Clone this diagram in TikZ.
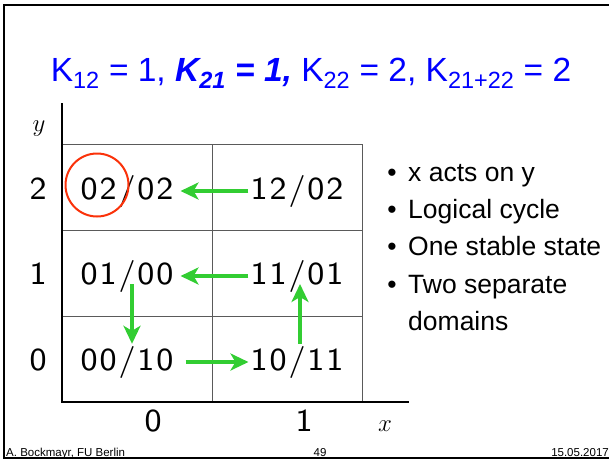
\documentclass[tikz,border=0pt]{standalone}
\usepackage{fontspec}
\newfontfamily\slidefont{Liberation Sans}
\newfontfamily\statefont{lmsans8-regular}[Extension=.otf,LetterSpace=6]
\usetikzlibrary{arrows.meta,positioning}
\definecolor{titleblue}{RGB}{0,0,255}
\definecolor{flowgreen}{RGB}{50,205,50}
\definecolor{ringred}{RGB}{250,50,10}
\definecolor{gridgray}{RGB}{90,90,90}

\begin{document}
\begin{tikzpicture}[
  x=1pt,
  y=-1pt,
  state/.style={
    font=\statefont\fontsize{32}{36}\selectfont,
    anchor=base,
    inner sep=2pt
  },
  tick/.style={
    font=\statefont\fontsize{32}{36}\selectfont,
    anchor=base,
    inner sep=0pt
  },
  bullet/.style={
    font=\slidefont\fontsize{26.5}{30}\selectfont,
    anchor=base west,
    inner sep=0pt
  },
  footer/.style={
    font=\slidefont\fontsize{11.5}{13}\selectfont,
    inner sep=0pt
  },
  flow/.style={
    draw=flowgreen,
    line width=4pt,
    -{Stealth[length=18pt,width=17pt,inset=5pt]}
  },
  gridline/.style={draw=gridgray, line width=0.9pt},
  axis/.style={draw=black, line width=1.1pt}
]
\useasboundingbox (0,0) rectangle (609,461);

% Slide frame
\draw[line width=2pt] (609,5) -- (4,5) -- (4,458) -- (609,458);

% Title
\node[font=\slidefont\fontsize{33.5}{40}\selectfont, text=titleblue,
  anchor=base] (title) at (311,81)
  {K\textsubscript{12} = 1, \textbf{\textit{K\textsubscript{21} = 1,}}
   K\textsubscript{22} = 2, K\textsubscript{21+22} = 2};

% State grid and axes
\draw[gridline] (62,144) rectangle (362,402);
\draw[gridline] (212,144) -- (212,402);
\draw[gridline] (62,230) -- (362,230);
\draw[gridline] (62,316) -- (362,316);
\draw[axis] (62,103) -- (62,402) -- (409,402);

\node[tick] (ylab) at (39,131) {$y$};
\node[tick] (y2) at (38,199) {2};
\node[tick] (y1) at (38,284) {1};
\node[tick] (y0) at (38,370) {0};
\node[tick] (x0) at (153,431) {0};
\node[tick] (x1) at (304,431) {1};
\node[tick] (xlab) at (385,431) {$x$};

% States
\node[state] (s02) at (127,199) {02/02};
\node[state] (s12) at (297,199) {12/02};
\node[state] (s01) at (127,284) {01/00};
\node[state] (s11) at (297,284) {11/01};
\node[state] (s00) at (127,370) {00/10};
\node[state] (s10) at (297,370) {10/11};

% Stable state
\node[draw=ringred, line width=2pt, circle, minimum size=63pt]
  (ring) at (97,185) {};

% Transitions
\draw[flow, shorten >=5pt] (s12.west) -- (s02.east);
\draw[flow, shorten >=5pt] (s11.west) -- (s01.east);
\draw[flow] ([xshift=5pt]s01.base) -- ([xshift=5pt]s00.north);
\draw[flow, shorten <=10pt] (s00.east) -- (s10.west);
\draw[flow] ([xshift=3pt]s10.north) -- ([xshift=3pt]s11.base);

% Remarks
\node[bullet, anchor=base] (dot1) at (392,181) {\textbullet};
\node[bullet] (note1) at (408,181) {x acts on y};
\node[bullet, anchor=base] (dot2) at (392,218) {\textbullet};
\node[bullet] (note2) at (408,218) {Logical cycle};
\node[bullet, anchor=base] (dot3) at (392,255) {\textbullet};
\node[bullet] (note3) at (408,255) {One stable state};
\node[bullet, anchor=base] (dot4) at (392,293) {\textbullet};
\node[bullet] (note4) at (408,293) {Two separate};
\node[bullet] (note4b) at (408,330) {domains};

% Footer
\node[footer, anchor=base west] (author) at (6,456) {A. Bockmayr, FU Berlin};
\node[footer, anchor=base] (page) at (320,456) {49};
\node[footer, anchor=base east] (date) at (609,456) {15.05.2017};

\end{tikzpicture}
\end{document}
